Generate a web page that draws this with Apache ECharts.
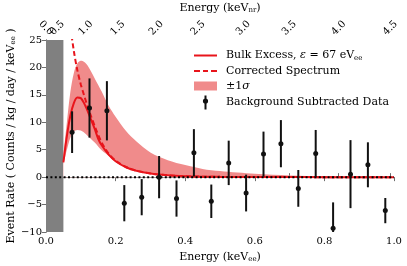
<!DOCTYPE html>
<html>
<head>
<meta charset="utf-8">
<script src="https://cdn.jsdelivr.net/npm/echarts@6/dist/echarts.min.js"></script>
<style>html,body{margin:0;padding:0;background:#fff}#c{width:407px;height:266px}</style>
</head>
<body>
<div id="c"></div>
<script>
// ---- data ----
const dataE    = [0.075,0.125,0.175,0.225,0.275,0.325,0.375,0.425,0.475,0.525,0.575,0.625,0.675,0.725,0.775,0.825,0.875,0.925,0.975];
const dataRate = [8.2,12.6,12.1,-4.75,-3.65,0.0,-3.9,4.45,-4.4,2.6,-2.9,4.2,6.1,-2.05,4.3,-9.3,0.55,2.25,-6.1];
const dataErr  = [3.8,5.4,5.4,3.3,3.3,3.85,3.3,4.3,3.05,4.05,3.35,4.1,4.3,3.35,4.3,4.7,6.2,4.1,2.3];

const bulkE    = [0.05,0.06,0.07,0.08,0.09,0.10,0.11,0.12,0.13,0.14,0.15,0.16,0.18,0.20,0.23,0.26,0.30,0.35,0.40,0.45,0.50,0.60,0.70,0.80,0.90,1.0];
const bulkRate = [2.7,7.5,11.2,13.5,14.5,14.4,13.4,12.0,10.4,8.8,7.0,5.8,4.1,2.9,1.8,1.15,0.65,0.33,0.17,0.09,0.05,0.02,0.01,0,0,0];

const corrE    = [0.055,0.06,0.07,0.08,0.09,0.10,0.11,0.12,0.13,0.14,0.15,0.16,0.17,0.18,0.20,0.23,0.26,0.30,0.35,0.40,0.45,0.50,0.60,0.70,0.80,0.90,1.0];
const corrRate = [36,33,27.5,23.0,19.5,16.9,14.8,12.8,11.0,9.3,7.7,6.3,5.2,4.3,3.0,1.85,1.17,0.66,0.33,0.17,0.09,0.05,0.02,0.01,0,0,0];

const bandE     = [0.05,0.06,0.07,0.08,0.09,0.10,0.11,0.12,0.14,0.16,0.18,0.20,0.23,0.26,0.30,0.35,0.40,0.45,0.50,0.60,0.70,0.80,0.90,1.0];
const bandUpper = [4.0,10.0,15.5,19.0,20.7,21.2,21.0,20.3,18.0,15.6,13.0,11.0,8.4,6.5,4.5,3.1,2.2,1.5,1.1,0.6,0.32,0.16,0.08,0.04];
const bandLower = [2.4,5.0,7.2,8.3,8.6,8.5,8.1,7.5,6.3,4.9,3.9,2.8,2.0,1.35,0.75,0.42,0.22,0.12,0.07,0.02,0.01,0,0,0];

const shadeRange = [0, 0.05];

// top axis: nuclear-recoil energy tick labels and their positions in keVee
const topTickLabels = ['0.0','0.5','1.0','1.5','2.0','2.5','3.0','3.5','4.0','4.5'];
const topTickPos    = [0.0,0.0325,0.114,0.206,0.317,0.437,0.567,0.699,0.841,0.989];

const yTicks = {min:-10, max:25, interval:5};
const xTicks = {min:0, max:1, interval:0.2};

const legendNames  = ['bulk','corr','band','data'];
const legendLabels = {
  bulk: '{t|Bulk Excess, }{i|ε}{t| = 67 eV}{s|ee}',
  corr: '{t|Corrected Spectrum}',
  band: '{t|±1}{i|σ}',
  data: '{t|Background Subtracted Data}'
};

// ---- chart ----
const RED = '#e8141b';
const PINK = '#f08b8b';
const AX = '#6e6e6e';
const FONT = 'DejaVu Serif';

const zip = (a, b) => a.map((v, i) => [v, b[i]]);
const fmtNum = v => (v < 0 ? '\u2212' + Math.abs(v) : String(v));
const topLabel = v => { let k = 0, d = 9; topTickPos.forEach((p, i) => { if (Math.abs(p - v) < d) { d = Math.abs(p - v); k = i; } }); return topTickLabels[k]; };

const richBase = {
  t: {fontFamily: FONT, fontSize: 11, color: '#000'},
  i: {fontFamily: FONT, fontSize: 11, fontStyle: 'italic', color: '#000'},
  s: {fontFamily: FONT, fontSize: 7, color: '#000', verticalAlign: 'bottom', padding: [5,0,0,0]}
};
const nameRich = {t: {fontFamily: FONT, fontSize: 11, color: '#000'}, s: richBase.s};
const topLabelStyle = {fontFamily: FONT, fontSize: 10, color: '#000', margin: 12, rotate: 45,
  align: 'center', verticalAlign: 'middle', hideOverlap: false, formatter: topLabel};

const chart = echarts.init(document.getElementById('c'), null, {renderer: 'canvas'});
chart.setOption({
  animation: false,
  grid: {left: 46, right: 13, top: 40, bottom: 34, containLabel: false, outerBoundsMode: 'none'},
  textStyle: {fontFamily: FONT},
  legend: {
    orient: 'vertical', left: 189, top: 45, itemWidth: 23, itemHeight: 14, itemGap: 4,
    data: [
      {name: 'bulk', icon: 'path://M0,0 h23 v2 h-23 z', itemStyle: {color: RED}},
      {name: 'corr', icon: 'path://M0,0 h6 v2 h-6 z M9,0 h5 v2 h-5 z M17,0 h6 v2 h-6 z', itemStyle: {color: RED}},
      {name: 'band', icon: 'path://M0,0 h23 v9 h-23 z', itemStyle: {color: PINK}},
      {name: 'data', icon: 'path://M2,0 h2 v14 h-2 z M0.4,5.5 a2.6,2.6 0 1,1 5.2,0 a2.6,2.6 0 1,1 -5.2,0 z', itemStyle: {color: '#111', borderWidth: 0}}
    ],
    formatter: n => legendLabels[n],
    textStyle: {rich: richBase, padding: [0,0,0,4]},
    selectedMode: false
  },
  xAxis: [{
    type: 'value', position: 'bottom', min: xTicks.min, max: xTicks.max, interval: xTicks.interval,
    name: '{t|Energy (keV}{s|ee}{t|)}', nameLocation: 'middle', nameGap: 19, nameMoveOverlap: false,
    nameTextStyle: {rich: nameRich},
    axisLine: {show: true, lineStyle: {color: AX, width: 1}},
    axisTick: {show: true, length: 4, lineStyle: {color: AX}},
    axisLabel: {fontFamily: FONT, fontSize: 10, color: '#000', margin: 4, formatter: v => v.toFixed(1)},
    splitLine: {show: false}
  }, {
    type: 'value', position: 'top', min: 0, max: 1,
    name: '{t|Energy (keV}{s|nr}{t|)}', nameLocation: 'middle', nameGap: 26, nameMoveOverlap: false,
    nameTextStyle: {rich: nameRich},
    axisLine: {show: true, lineStyle: {color: AX, width: 1}},
    axisTick: {show: true, length: 4, lineStyle: {color: AX}, customValues: topTickPos},
    axisLabel: Object.assign({}, topLabelStyle, {customValues: topTickPos, showMinLabel: false}),
    splitLine: {show: false}
  }, {
    // carries only the first top label, which overlaps its neighbour in the reference
    type: 'value', position: 'top', min: 0, max: 1,
    axisLine: {show: false}, axisTick: {show: false},
    axisLabel: Object.assign({}, topLabelStyle, {customValues: topTickPos.slice(0, 1)}),
    splitLine: {show: false}
  }],
  yAxis: [{
    type: 'value', min: yTicks.min, max: yTicks.max, interval: yTicks.interval,
    name: '{t|Event Rate ( Counts / kg / day / keV}{s|ee}{t| )}', nameLocation: 'middle', nameGap: 29, nameMoveOverlap: false,
    nameTextStyle: {rich: nameRich},
    axisLine: {show: true, lineStyle: {color: AX, width: 1}},
    axisTick: {show: true, length: 4, lineStyle: {color: AX}},
    axisLabel: {fontFamily: FONT, fontSize: 10, color: '#000', margin: 4, formatter: fmtNum},
    splitLine: {show: false}
  }, {
    type: 'value', position: 'right', min: yTicks.min, max: yTicks.max, interval: yTicks.interval,
    axisLine: {show: true, lineStyle: {color: AX, width: 1}},
    axisTick: {show: false}, axisLabel: {show: false}, splitLine: {show: false}
  }],
  series: [
    {
      name: 'shade', type: 'line', data: [], z: 1, silent: true,
      markArea: {silent: true, itemStyle: {color: '#808080'}, data: [[{xAxis: shadeRange[0]}, {xAxis: shadeRange[1]}]]}
    },
    {
      name: 'band', type: 'line', data: zip(bandE, bandUpper), symbol: 'none', smooth: 0.3,
      color: PINK, itemStyle: {color: PINK},
      lineStyle: {width: 0, opacity: 0}, areaStyle: {color: PINK, opacity: 1, origin: 0}, z: 2, silent: true
    },
    {
      name: 'bandLow', type: 'line', data: zip(bandE, bandLower), symbol: 'none', smooth: 0.3,
      lineStyle: {width: 0, opacity: 0}, areaStyle: {color: '#fff', opacity: 1, origin: 0}, z: 2, silent: true
    },
    {
      name: 'corr', type: 'line', data: zip(corrE, corrRate), symbol: 'none', smooth: 0.3, color: RED,
      lineStyle: {color: RED, width: 2, type: [5, 3]}, z: 3, clip: true
    },
    {
      name: 'bulk', type: 'line', data: zip(bulkE, bulkRate), symbol: 'none', smooth: 0.3, color: RED,
      lineStyle: {color: RED, width: 2}, z: 3
    },
    {
      name: 'zero', type: 'line', data: [[0, 0], [1, 0]], symbol: 'none', z: 4, silent: true,
      lineStyle: {color: '#000', width: 2, type: [2, 2.4], cap: 'butt'}
    },
    {
      name: 'data', type: 'custom', z: 5, clip: true, color: '#111', itemStyle: {color: '#111'},
      data: dataE.map((e, i) => [e, dataRate[i], dataErr[i]]),
      encode: {x: 0, y: 1},
      renderItem: (params, api) => {
        const x = api.value(0), y = api.value(1), er = api.value(2);
        const p = api.coord([x, y]), hi = api.coord([x, y + er]), lo = api.coord([x, y - er]);
        return {type: 'group', children: [
          {type: 'line', shape: {x1: hi[0], y1: hi[1], x2: lo[0], y2: lo[1]}, style: {stroke: '#111', lineWidth: 2}},
          {type: 'circle', shape: {cx: p[0], cy: p[1], r: 2.5}, style: {fill: '#111'}}
        ]};
      }
    }
  ]
});
</script>
</body>
</html>
